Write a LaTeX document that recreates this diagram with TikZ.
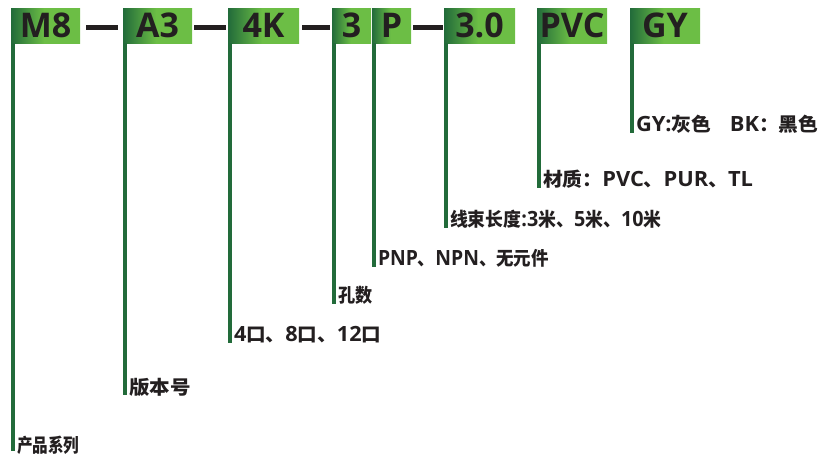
\documentclass[tikz,border=0pt]{standalone}
\usepackage{graphicx}
\usepackage{fontspec}
\setmainfont{Open Sans}
\newfontfamily\cjk{Noto Sans CJK SC}
\newcommand{\zh}[1]{{\fontsize{19}{19}\selectfont\cjk\bfseries #1}}
\newcommand{\squeeze}[2]{\scalebox{#1}[1]{#2}}
\usepackage{tikz}
\usetikzlibrary{calc}
\definecolor{tagdark}{HTML}{226B3A}
\definecolor{taglight}{HTML}{6CBE45}
\definecolor{inkgray}{HTML}{231F20}
\pgfdeclarehorizontalshading{tagshade}{100bp}{color(0bp)=(tagdark); color(25bp)=(tagdark); color(49bp)=(taglight); color(100bp)=(taglight)}
\begin{document}
\begin{tikzpicture}[x=1pt,y=-1pt,
  tag/.style={shading=tagshade,minimum height=35pt,inner sep=0pt,text=inkgray,
    font=\fontsize{34}{34}\selectfont\bfseries},
  dashline/.style={line width=5pt,inkgray},
  leg/.style={line width=3.5pt,tagdark},
  legtext/.style={anchor=base west,inner xsep=4pt,inner ysep=0pt,text=inkgray,
    font=\fontsize{21}{21}\selectfont\bfseries}]
  \useasboundingbox (0,0) rectangle (822,458);
  % code tags
  \node[tag,minimum width=69pt] (m8) at (45.5,25.5) {M8};
  \node[tag,minimum width=69pt] (a3) at (157.5,25.5) {A3};
  \node[tag,minimum width=71pt] (k4) at (263.5,25.5) {4K};
  \node[tag,minimum width=39pt] (n3) at (351.5,25.5) {3};
  \node[tag,minimum width=39pt] (pp) at (391.5,25.5) {P};
  \node[tag,minimum width=71pt] (len) at (479.5,25.5) {3.0};
  \node[tag,minimum width=70pt] (pvc) at (572,25.5) {PVC};
  \node[tag,minimum width=70pt] (gy) at (665,25.5) {GY};
  \draw[dashline,shorten <=6pt,shorten >=5pt] ([yshift=-2pt]m8.east) -- ([yshift=-2pt]a3.west);
  \draw[dashline,shorten <=2pt,shorten >=2pt] ([yshift=-2pt]a3.east) -- ([yshift=-2pt]k4.west);
  \draw[dashline,shorten <=3pt,shorten >=2pt] ([yshift=-2pt]k4.east) -- ([yshift=-2pt]n3.west);
  \draw[dashline,shorten <=2pt,shorten >=1pt] ([yshift=-2pt]pp.east) -- ([yshift=-2pt]len.west);
  % legends
  \node[legtext] (series) at ([xshift=2pt]m8.south west |- 0,452.5) {\squeeze{0.82}{\zh{产品系列}}};
  \node[legtext] (version) at ([xshift=2pt]a3.south west |- 0,394.5) {\squeeze{1.08}{\zh{版本号}}};
  \node[legtext] (ports) at ([xshift=2pt]k4.south west |- 0,341.5) {\squeeze{1.03}{4\zh{口、}8\zh{口、}12\zh{口}}};
  \node[legtext] (holes) at ([xshift=2pt]n3.south west |- 0,302.5) {\squeeze{0.9}{\zh{孔数}}};
  \node[legtext] (output) at ([xshift=2pt]pp.south west |- 0,265.5) {\squeeze{0.92}{PNP\zh{、}NPN\zh{、无元件}}};
  \node[legtext] (cable) at ([xshift=2pt]len.south west |- 0,226.5) {\squeeze{0.94}{\zh{线束长度}:3\zh{米、}5\zh{米、}10\zh{米}}};
  \node[legtext] (jacket) at ([xshift=2pt]pvc.south west |- 0,186.5) {\squeeze{1.04}{\zh{材质：}PVC\zh{、}PUR\zh{、}TL}};
  \node[legtext] (colour) at ([xshift=2pt]gy.south west |- 0,131.5) {\squeeze{1.04}{GY:\zh{灰色}\hspace{18pt}BK\zh{：黑色}}};
  \draw[leg] ([xshift=2pt]m8.south west) -- ([yshift=1.5pt]series.base west);
  \draw[leg] ([xshift=2pt]a3.south west) -- ([yshift=-0.5pt]version.base west);
  \draw[leg] ([xshift=2pt]k4.south west) -- ([yshift=-1.5pt]ports.base west);
  \draw[leg] ([xshift=2pt]n3.south west) -- ([yshift=-1.5pt]holes.base west);
  \draw[leg] ([xshift=2pt]pp.south west) -- ([yshift=-1.5pt]output.base west);
  \draw[leg] ([xshift=2pt]len.south west) -- ([yshift=-1.5pt]cable.base west);
  \draw[leg] ([xshift=2pt]pvc.south west) -- ([yshift=-1.5pt]jacket.base west);
  \draw[leg] ([xshift=2pt]gy.south west) -- ([yshift=-1.5pt]colour.base west);
\end{tikzpicture}
\end{document}
